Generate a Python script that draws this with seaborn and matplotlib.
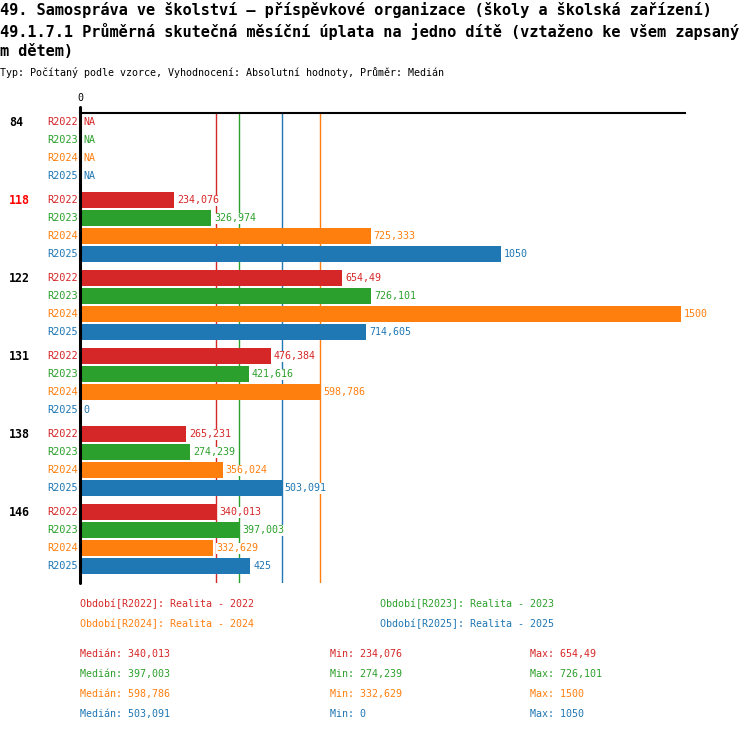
import numpy as np
import pandas as pd
import seaborn as sns
import matplotlib.pyplot as plt

# data
skupiny = ['84', '118', '122', '131', '138', '146']
obdobi = ['R2022', 'R2023', 'R2024', 'R2025']
r2022 = [np.nan, 234.076, 654.49, 476.384, 265.231, 340.013]
r2023 = [np.nan, 326.974, 726.101, 421.616, 274.239, 397.003]
r2024 = [np.nan, 725.333, 1500, 598.786, 356.024, 332.629]
r2025 = [np.nan, 1050, 714.605, 0, 503.091, 425]
legenda = ['Realita - 2022', 'Realita - 2023', 'Realita - 2024', 'Realita - 2025']
barvy = {'R2022': '#d62728', 'R2023': '#2ca02c', 'R2024': '#ff7f0e', 'R2025': '#1f77b4'}

hodnoty = {'R2022': r2022, 'R2023': r2023, 'R2024': r2024, 'R2025': r2025}
rows = []
for o in obdobi:
    for s, v in zip(skupiny, hodnoty[o]):
        rows.append({'skupina': s, 'obdobi': o, 'hodnota': v})
df = pd.DataFrame(rows)
df['kresli'] = df['hodnota'].fillna(0)


def fmt(v):
    if np.isnan(v):
        return 'NA'
    return f'{v:g}'.replace('.', ',')


sns.set_style('white')
plt.rcParams['font.family'] = ['DejaVu Sans Mono']
plt.rcParams['text.color'] = 'black'
W, H = 750, 732
fig = plt.figure(figsize=(W / 100, H / 100), dpi=100)
ax = fig.add_axes([80 / W, 1 - 583 / H, 605 / W, (583 - 113) / H])

sns.barplot(data=df, y='skupina', x='kresli', hue='obdobi', order=skupiny,
            hue_order=obdobi, palette=barvy, orient='h', width=72 / 78,
            gap=2 / 18, linewidth=0, saturation=1, legend=False, ax=ax)

ax.set_xlim(0, 1510)
ax.set_ylim((583 - 149) / 78, (113 - 149) / 78)
ax.set_xlabel('')
ax.set_ylabel('')
ax.set_xticks([])
ax.set_yticks([])
for sp in ['right', 'bottom']:
    ax.spines[sp].set_visible(False)
ax.spines['top'].set_color('black')
ax.spines['top'].set_linewidth(1.5)
ax.spines['left'].set_visible(False)
ax.axvline(0, ymin=0, ymax=1.012, color='black', lw=2.2, clip_on=False, zorder=5)
ax.text(0, 1.022, '0', transform=ax.get_xaxis_transform(), ha='center', va='bottom',
        fontsize=7.2)

# median lines
for o in obdobi:
    ax.axvline(np.nanmedian(hodnoty[o]), color=barvy[o], lw=1, zorder=0.5)

# value labels and row labels
ytr = ax.get_yaxis_transform()
for i, o in enumerate(obdobi):
    cont = ax.containers[i]
    ax.bar_label(cont, labels=[fmt(v) for v in hodnoty[o]], padding=2.2,
                 color=barvy[o], fontsize=7.2,
                 bbox=dict(boxstyle='square,pad=0.05', fc='white', ec='none'))
    for bar in cont:
        yc = bar.get_y() + bar.get_height() / 2
        ax.text(-2 / 605, yc, o, transform=ytr, ha='right', va='center',
                color=barvy[o], fontsize=7.4)

for j, s in enumerate(skupiny):
    yc = ax.containers[0][j].get_y() + ax.containers[0][j].get_height() / 2
    ax.text(-71 / 605, yc, s, transform=ytr, ha='left', va='center',
            fontsize=8.4, fontweight='bold',
            color='#ff0000' if s == '118' else 'black')

# titles
fig.text(0 / W, 1 - 10 / H, '49. Samospráva ve školství – příspěvkové organizace (školy a školská zařízení)',
         fontsize=11, fontweight='bold', va='center', ha='left')
fig.text(0 / W, 1 - 31 / H, '49.1.7.1 Průměrná skutečná měsíční úplata na jedno dítě (vztaženo ke všem zapsaný',
         fontsize=11, fontweight='bold', va='center', ha='left')
fig.text(0 / W, 1 - 51 / H, 'm dětem)', fontsize=11, fontweight='bold', va='center', ha='left')
fig.text(0 / W, 1 - 73 / H,
         'Typ: Počítaný podle vzorce, Vyhodnocení: Absolutní hodnoty, Průměr: Medián',
         fontsize=7.2, va='center', ha='left')

# legend
leg_x = [80, 380, 80, 380]
leg_y = [604, 604, 624, 624]
for o, t, lx, ly in zip(obdobi, legenda, leg_x, leg_y):
    fig.text(lx / W, 1 - ly / H, f'Období[{o}]: {t}', color=barvy[o],
             fontsize=7.2, va='center', ha='left')

# statistics
for k, o in enumerate(obdobi):
    v = np.array(hodnoty[o], dtype=float)
    yy = 1 - (654 + 20 * k) / H
    fig.text(80 / W, yy, f'Medián: {fmt(np.nanmedian(v))}', color=barvy[o],
             fontsize=7.2, va='center', ha='left')
    fig.text(330 / W, yy, f'Min: {fmt(np.nanmin(v))}', color=barvy[o],
             fontsize=7.2, va='center', ha='left')
    fig.text(530 / W, yy, f'Max: {fmt(np.nanmax(v))}', color=barvy[o],
             fontsize=7.2, va='center', ha='left')

fig.savefig('out.png', dpi=100, facecolor='white')
